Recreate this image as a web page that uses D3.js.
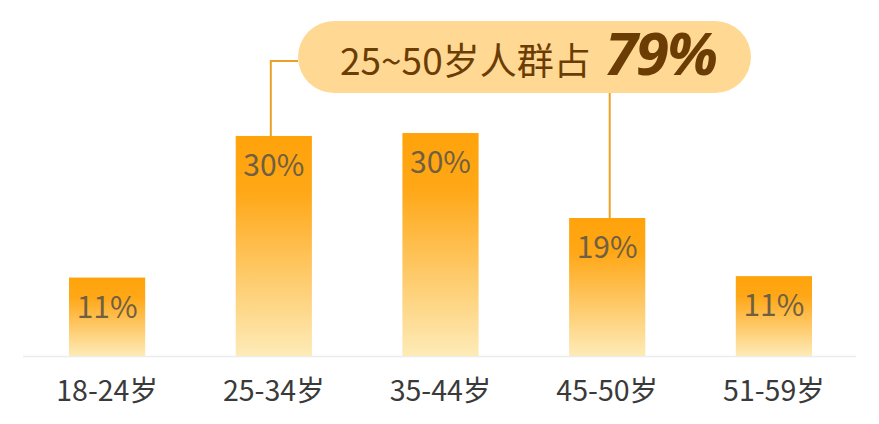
<!DOCTYPE html>
<html>
<head>
<meta charset="utf-8">
<title>年龄分布</title>
<style>
  body {
    margin: 0;
    background: white;
    font-family: "Noto Sans CJK SC", "Noto Sans", sans-serif;
  }
  svg { display: block; }
</style>
<script src="https://d3js.org/d3.v7.min.js"></script>
</head>
<body>
<svg id="chart" width="879" height="424"></svg>
<script>
// data
const categories = ['18-24岁', '25-34岁', '35-44岁', '45-50岁', '51-59岁'];
const values = [10.8, 30.3, 30.7, 19.0, 11.0];
const valueLabels = ['11%', '30%', '30%', '19%', '11%'];
const calloutText = '25~50岁人群占';
const calloutValue = '79%';
const calloutFrom = '25-34岁';
const calloutTo = '45-50岁';

const svg = d3.select('#chart');
const baseY = 356;

const x = d3.scaleBand()
  .domain(categories)
  .range([24, 857])
  .paddingInner(0.543)
  .paddingOuter(0.27);

const y = d3.scaleLinear()
  .domain([0, 40])
  .range([baseY, 65.5]);

// gradient for bars
const defs = svg.append('defs');
const grad = defs.append('linearGradient')
  .attr('id', 'barGrad')
  .attr('x1', 0).attr('y1', 0)
  .attr('x2', 0).attr('y2', 1);
grad.append('stop').attr('offset', '0%').attr('stop-color', '#ffa30b');
grad.append('stop').attr('offset', '25%').attr('stop-color', '#ffa716');
grad.append('stop').attr('offset', '100%').attr('stop-color', '#fdebb8');

// baseline
svg.append('line')
  .attr('x1', 23).attr('x2', 856)
  .attr('y1', baseY + 0.5).attr('y2', baseY + 0.5)
  .attr('stroke', '#ececec')
  .attr('stroke-width', 1.5);

// bars
svg.append('g')
  .selectAll('rect')
  .data(values)
  .join('rect')
  .attr('x', (d, i) => x(categories[i]))
  .attr('y', d => y(d))
  .attr('width', x.bandwidth())
  .attr('height', d => baseY - y(d))
  .attr('fill', 'url(#barGrad)');

// value labels
svg.append('g')
  .selectAll('text')
  .data(values)
  .join('text')
  .attr('x', (d, i) => x(categories[i]) + x.bandwidth() / 2)
  .attr('y', d => y(d) + 40)
  .attr('text-anchor', 'middle')
  .attr('font-size', 30)
  .attr('fill', '#705f42')
  .text((d, i) => valueLabels[i]);

// x axis labels
const xAxis = svg.append('g')
  .attr('transform', `translate(0,${baseY})`)
  .call(d3.axisBottom(x).tickSize(0).tickPadding(0));
xAxis.select('.domain').remove();
xAxis.selectAll('text')
  .attr('dy', null)
  .attr('y', 45)
  .attr('font-size', 28.5)
  .attr('font-family', '"Noto Sans CJK SC", sans-serif')
  .attr('fill', '#3a3a3a');

// connector lines
const fromI = categories.indexOf(calloutFrom);
const toI = categories.indexOf(calloutTo);
const leftX = x(calloutFrom) + x.bandwidth() / 2 - 3;
const rightX = x(calloutTo) + x.bandwidth() / 2 + 2.5;
const pill = { x: 298, y: 21, w: 453, h: 72 };

svg.append('path')
  .attr('d', `M${pill.x},61 H${leftX} V${y(values[fromI])}`)
  .attr('fill', 'none')
  .attr('stroke', '#e9a227')
  .attr('stroke-width', 2);

svg.append('path')
  .attr('d', `M${rightX},${pill.y + pill.h} V${y(values[toI])}`)
  .attr('fill', 'none')
  .attr('stroke', '#e9a227')
  .attr('stroke-width', 2);

// callout pill
svg.append('rect')
  .attr('x', pill.x).attr('y', pill.y)
  .attr('width', pill.w).attr('height', pill.h)
  .attr('rx', pill.h / 2)
  .attr('fill', '#ffd994');

const callout = svg.append('text')
  .attr('x', 340)
  .attr('y', 75)
  .attr('fill', '#6b3d05');
callout.append('tspan')
  .attr('font-size', 37)
  .text(calloutText);
callout.append('tspan')
  .attr('dx', 14)
  .attr('font-size', 60)
  .attr('font-weight', 'bold')
  .attr('font-style', 'italic')
  .attr('letter-spacing', -2)
  .attr('font-family', '"Noto Sans", "Open Sans", sans-serif')
  .text(calloutValue);
</script>
</body>
</html>
